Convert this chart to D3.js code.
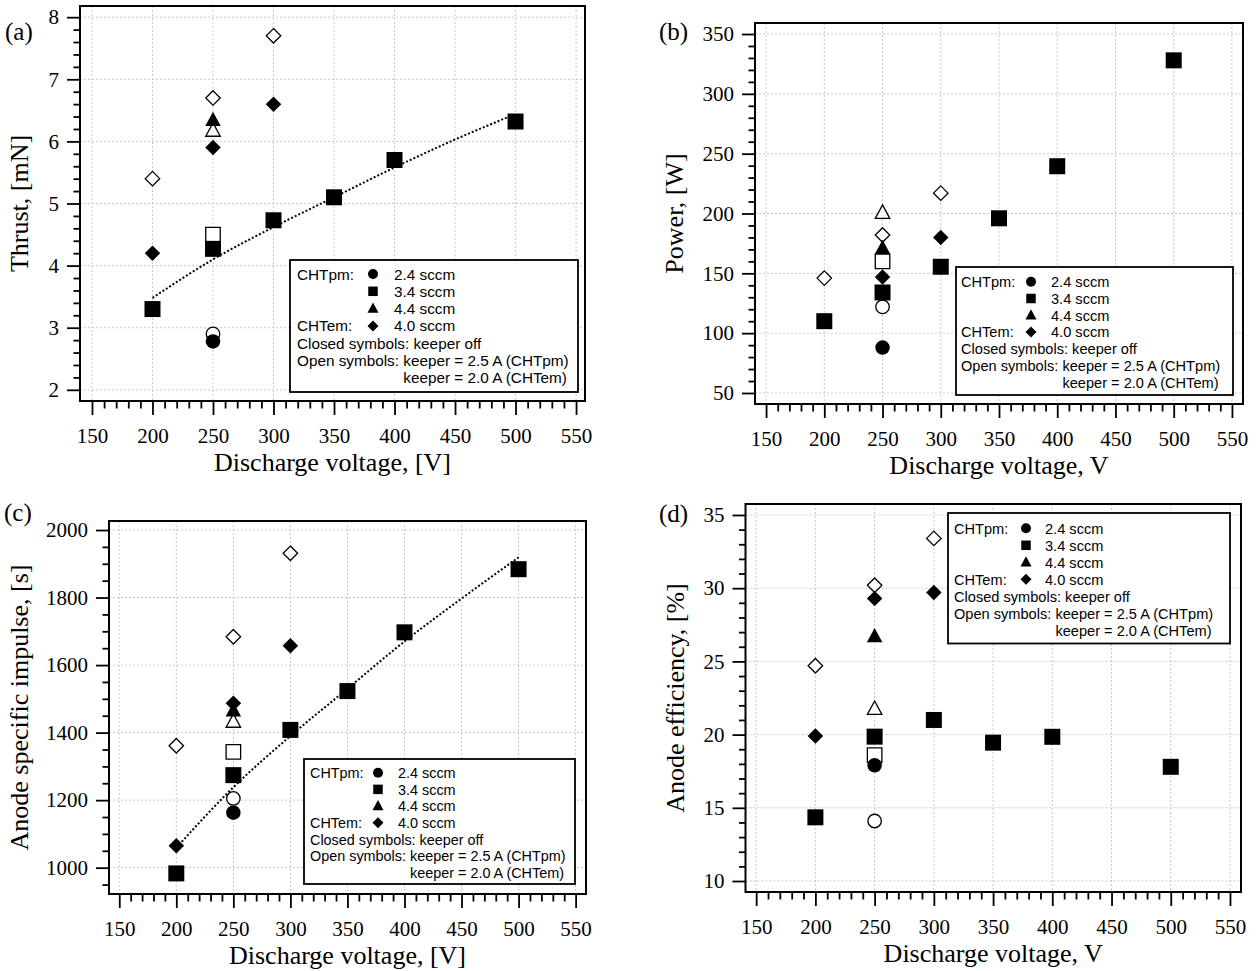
<!DOCTYPE html>
<html>
<head>
<meta charset="utf-8">
<script src="https://cdn.jsdelivr.net/npm/d3@7"></script>
<style>
  body { margin: 0; background: #fff; }
  svg { display: block; }
</style>
</head>
<body>
<svg id="chart" width="1260" height="971"></svg>
<script>
// ---------- data ----------
const voltsPm = [200, 250, 300, 350, 400, 500];   // CHTpm 3.4 sccm, keeper off
const voltsEm = [200, 250, 300];                  // CHTem 4.0 sccm
const volt250 = [250];

// (a) thrust, mN
const thrustCircOpen = [2.9];
const thrustCircFill = [2.78];
const thrustSqOpen = [4.5];
const thrustSqFill = [3.3, 4.27, 4.73, 5.1, 5.7, 6.32];
const thrustTriOpen = [6.17];
const thrustTriFill = [6.34];
const thrustDiaOpen = [5.4, 6.7, 7.7];
const thrustDiaFill = [4.2, 5.9, 6.6];
const thrustFitV = [200, 250, 300, 350, 400, 450, 500];
const thrustFit = [3.48, 4.1, 4.62, 5.1, 5.58, 6.03, 6.44];

// (b) power, W
const powerCircOpen = [122];
const powerCircFill = [88];
const powerSqOpen = [160];
const powerSqFill = [110, 134, 155.5, 196, 239.5, 328];
const powerTriOpen = [200.5];
const powerTriFill = [171];
const powerDiaOpen = [146, 182, 217];
const powerDiaFill = [147, 180];
const powerDiaFillV = [250, 300];

// (c) anode specific impulse, s
const ispCircOpen = [1205];
const ispCircFill = [1163];
const ispSqOpen = [1343];
const ispSqFill = [983, 1274, 1408, 1523, 1697, 1884];
const ispTriOpen = [1432];
const ispTriFill = [1465];
const ispDiaOpen = [1361, 1684, 1931];
const ispDiaFill = [1065, 1487, 1657];
const ispFitV = [200, 250, 300, 350, 400, 450, 500];
const ispFit = [1059, 1238, 1390, 1530, 1670, 1797, 1919];

// (d) anode efficiency, %
const effCircOpen = [14.1];
const effCircFill = [17.9];
const effSqOpen = [18.6];
const effSqFill = [14.35, 19.86, 21.0, 19.45, 19.85, 17.8];
const effTriOpen = [21.75];
const effTriFill = [26.7];
const effDiaOpen = [24.7, 30.2, 33.4];
const effDiaFill = [19.9, 29.3, 29.7];

// legend texts
const legendShapes = ["circle", "square", "triangle", "diamond"];
const legendFlows = ["2.4 sccm", "3.4 sccm", "4.4 sccm", "4.0 sccm"];
const legendGroups = ["CHTpm:", "", "", "CHTem:"];
const legendNotes = ["Closed symbols: keeper off", "Open symbols: keeper = 2.5 A (CHTpm)", "keeper = 2.0 A (CHTem)"];

// ---------- layout ----------
const serif = "'Liberation Serif','Times New Roman',serif";
const sans = "'Liberation Sans',Arial,sans-serif";
const svg = d3.select("#chart");

const panels = [
  {
    tag: "(a)", tagPos: [5, 40],
    frame: [80, 6, 585, 401], xDom: [140.1, 557.4], yDom: [1.82, 8.18],
    yMajor: 1, yMinor: 0.2,
    xTitle: "Discharge voltage, [V]", yTitle: "Thrust, [mN]", yTitleX: 28,
    legend: { box: [290, 260, 578, 392], textX: 297, symX: 373, valX: 394, row0: 274, step: 17.3, fs: 15.3 },
    fit: [thrustFitV, thrustFit],
    series: [
      ["circle", false, volt250, thrustCircOpen], ["square", false, volt250, thrustSqOpen],
      ["triangle", false, volt250, thrustTriOpen], ["diamond", false, voltsEm, thrustDiaOpen],
      ["diamond", true, voltsEm, thrustDiaFill], ["triangle", true, volt250, thrustTriFill],
      ["square", true, voltsPm, thrustSqFill], ["circle", true, volt250, thrustCircFill]
    ]
  },
  {
    tag: "(b)", tagPos: [659, 40],
    frame: [755, 23, 1243, 404], xDom: [140.5, 559.5], yDom: [40.8, 359.2],
    yMajor: 50, yMinor: 10,
    xTitle: "Discharge voltage, V", yTitle: "Power, [W]", yTitleX: 683,
    legend: { box: [956, 267, 1233, 395], textX: 961, symX: 1031, valX: 1051, row0: 281.7, step: 16.8, fs: 14.6 },
    fit: null,
    series: [
      ["circle", false, volt250, powerCircOpen], ["square", false, volt250, powerSqOpen],
      ["triangle", false, volt250, powerTriOpen], ["diamond", false, voltsEm, powerDiaOpen],
      ["diamond", true, powerDiaFillV, powerDiaFill], ["triangle", true, volt250, powerTriFill],
      ["square", true, voltsPm, powerSqFill], ["circle", true, volt250, powerCircFill]
    ]
  },
  {
    tag: "(c)", tagPos: [4, 521],
    frame: [109, 521, 586, 894], xDom: [141, 559.1], yDom: [922, 2026.7],
    yMajor: 200, yMinor: 50,
    xTitle: "Discharge voltage, [V]", yTitle: "Anode specific impulse, [s]", yTitleX: 28,
    legend: { box: [304, 759, 575, 884], textX: 310, symX: 378, valX: 398, row0: 772.7, step: 16.67, fs: 14.4 },
    fit: [ispFitV, ispFit],
    series: [
      ["circle", false, volt250, ispCircOpen], ["square", false, volt250, ispSqOpen],
      ["triangle", false, volt250, ispTriOpen], ["diamond", false, voltsEm, ispDiaOpen],
      ["triangle", true, volt250, ispTriFill], ["diamond", true, voltsEm, ispDiaFill],
      ["square", true, voltsPm, ispSqFill], ["circle", true, volt250, ispCircFill]
    ]
  },
  {
    tag: "(d)", tagPos: [659, 522],
    frame: [745.5, 504, 1241, 892], xDom: [141, 559.3], yDom: [9.25, 35.75],
    yMajor: 5, yMinor: 1,
    xTitle: "Discharge voltage, V", yTitle: "Anode efficiency, [%]", yTitleX: 684,
    legend: { box: [948, 513, 1230, 643.5], textX: 954, symX: 1026, valX: 1045, row0: 528.3, step: 17, fs: 14.6 },
    fit: null,
    series: [
      ["circle", false, volt250, effCircOpen], ["square", false, volt250, effSqOpen],
      ["triangle", false, volt250, effTriOpen], ["diamond", false, voltsEm, effDiaOpen],
      ["diamond", true, voltsEm, effDiaFill], ["triangle", true, volt250, effTriFill],
      ["square", true, voltsPm, effSqFill], ["circle", true, volt250, effCircFill]
    ]
  }
];

const markSize = {
  fill: { circle: 14.5, square: 16, triangle: 15.5, diamond: 15.5 },
  open: { circle: 13.5, square: 14.5, triangle: 14.5, diamond: 14.5 },
  legend: { circle: 10, square: 9.5, triangle: 11, diamond: 11 }
};

function symbolPath(shape, s) {
  const h = s / 2;
  if (shape === "square") return `M${-h},${-h}H${h}V${h}H${-h}Z`;
  if (shape === "diamond") return `M0,${-h}L${h},0L0,${h}L${-h},0Z`;
  if (shape === "triangle") return `M0,${-h * 1.1}L${h},${h * 0.75}L${-h},${h * 0.75}Z`;
  return d3.symbol(d3.symbolCircle, Math.PI * h * h)();
}

function ticksBetween(lo, hi, step) {
  const out = [];
  for (let k = Math.ceil(lo / step - 1e-9); k * step <= hi + 1e-9; k++) out.push(+(k * step).toFixed(6));
  return out;
}
const isMajor = (v, m) => Math.abs(v / m - Math.round(v / m)) < 1e-6;

function drawPanel(p) {
  const [fx0, fy0, fx1, fy1] = p.frame;
  const x = d3.scaleLinear().domain(p.xDom).range([fx0, fx1]);
  const y = d3.scaleLinear().domain(p.yDom).range([fy1, fy0]);
  const g = svg.append("g");

  const xAll = ticksBetween(150, 550, 10);
  const xMaj = xAll.filter(v => isMajor(v, 50));
  const xMin = xAll.filter(v => !isMajor(v, 50));
  const yAll = ticksBetween(p.yDom[0], p.yDom[1], p.yMinor);
  const yMaj = yAll.filter(v => isMajor(v, p.yMajor));
  const yMin = yAll.filter(v => !isMajor(v, p.yMajor));

  // dotted grid
  const grid = g.append("g").attr("stroke", "#c9c9c9").attr("stroke-width", 1).attr("stroke-dasharray", "2,2");
  grid.selectAll(".gx").data(xMaj).join("line")
    .attr("x1", d => x(d)).attr("x2", d => x(d)).attr("y1", fy0).attr("y2", fy1);
  grid.selectAll(".gy").data(yMaj).join("line")
    .attr("y1", d => y(d)).attr("y2", d => y(d)).attr("x1", fx0).attr("x2", fx1);

  // axes
  g.append("g").attr("transform", `translate(${fx0},0)`)
    .call(d3.axisLeft(y).tickValues(yMaj).tickSize(13).tickPadding(8).tickFormat(d3.format("d")));
  g.append("g").attr("transform", `translate(${fx0},0)`)
    .call(d3.axisLeft(y).tickValues(yMin).tickSize(6.5).tickFormat(""));
  g.append("g").attr("transform", `translate(0,${fy1})`)
    .call(d3.axisBottom(x).tickValues(xMaj).tickSize(14).tickPadding(13).tickFormat(d3.format("d")));
  g.append("g").attr("transform", `translate(0,${fy1})`)
    .call(d3.axisBottom(x).tickValues(xMin).tickSize(7.5).tickFormat(""));
  g.selectAll(".domain").remove();
  g.selectAll(".tick line").attr("stroke", "#000").attr("stroke-width", 1.8);
  g.selectAll(".tick text")
    .style("font-family", serif).style("font-size", "21px").attr("fill", "#000");

  // frame
  g.append("rect").attr("x", fx0).attr("y", fy0).attr("width", fx1 - fx0).attr("height", fy1 - fy0)
    .attr("fill", "none").attr("stroke", "#000").attr("stroke-width", 2);

  // fitted trend (dotted)
  if (p.fit) {
    const pts = d3.zip(p.fit[0], p.fit[1]);
    g.append("path").datum(pts)
      .attr("d", d3.line().x(d => x(d[0])).y(d => y(d[1])).curve(d3.curveMonotoneX))
      .attr("fill", "none").attr("stroke", "#000").attr("stroke-width", 2).attr("stroke-dasharray", "2,2");
  }

  // markers
  p.series.forEach(([shape, filled, xs, ys]) => {
    const size = filled ? markSize.fill[shape] : markSize.open[shape];
    g.append("g").selectAll("path").data(d3.zip(xs, ys)).join("path")
      .attr("transform", d => `translate(${x(d[0])},${y(d[1])})`)
      .attr("d", symbolPath(shape, size))
      .attr("fill", filled ? "#000" : "#fff")
      .attr("stroke", "#000")
      .attr("stroke-width", filled ? 0 : 1.3);
  });

  // legend
  const L = p.legend;
  const lg = g.append("g").style("font-family", sans).style("font-size", L.fs + "px").attr("fill", "#000");
  lg.append("rect").attr("x", L.box[0]).attr("y", L.box[1])
    .attr("width", L.box[2] - L.box[0]).attr("height", L.box[3] - L.box[1])
    .attr("fill", "#fff").attr("stroke", "#000").attr("stroke-width", 1.8);
  legendShapes.forEach((shape, i) => {
    const ry = L.row0 + i * L.step;
    if (legendGroups[i]) lg.append("text").attr("x", L.textX).attr("y", ry).attr("dy", "0.36em").text(legendGroups[i]);
    lg.append("path").attr("transform", `translate(${L.symX},${ry})`).attr("d", symbolPath(shape, markSize.legend[shape]));
    lg.append("text").attr("x", L.valX).attr("y", ry).attr("dy", "0.36em").text(legendFlows[i]);
  });
  lg.append("text").attr("x", L.textX).attr("y", L.row0 + 4 * L.step).attr("dy", "0.36em").text(legendNotes[0]);
  const open = lg.append("text").attr("x", L.textX).attr("y", L.row0 + 5 * L.step).attr("dy", "0.36em").text(legendNotes[1]);
  const keeperX = L.textX + open.node().getSubStringLength(0, legendNotes[1].indexOf("keeper"));
  lg.append("text").attr("x", keeperX).attr("y", L.row0 + 6 * L.step).attr("dy", "0.36em").text(legendNotes[2]);

  // titles
  g.append("text").attr("x", (fx0 + fx1) / 2).attr("y", fy1 + 70)
    .attr("text-anchor", "middle").style("font-family", serif).style("font-size", "26px").text(p.xTitle);
  g.append("text").attr("transform", `translate(${p.yTitleX},${(fy0 + fy1) / 2}) rotate(-90)`)
    .attr("text-anchor", "middle").style("font-family", serif).style("font-size", "26px").text(p.yTitle);
  g.append("text").attr("x", p.tagPos[0]).attr("y", p.tagPos[1])
    .style("font-family", serif).style("font-size", "25px").text(p.tag);
}

panels.forEach(drawPanel);
</script>
</body>
</html>
